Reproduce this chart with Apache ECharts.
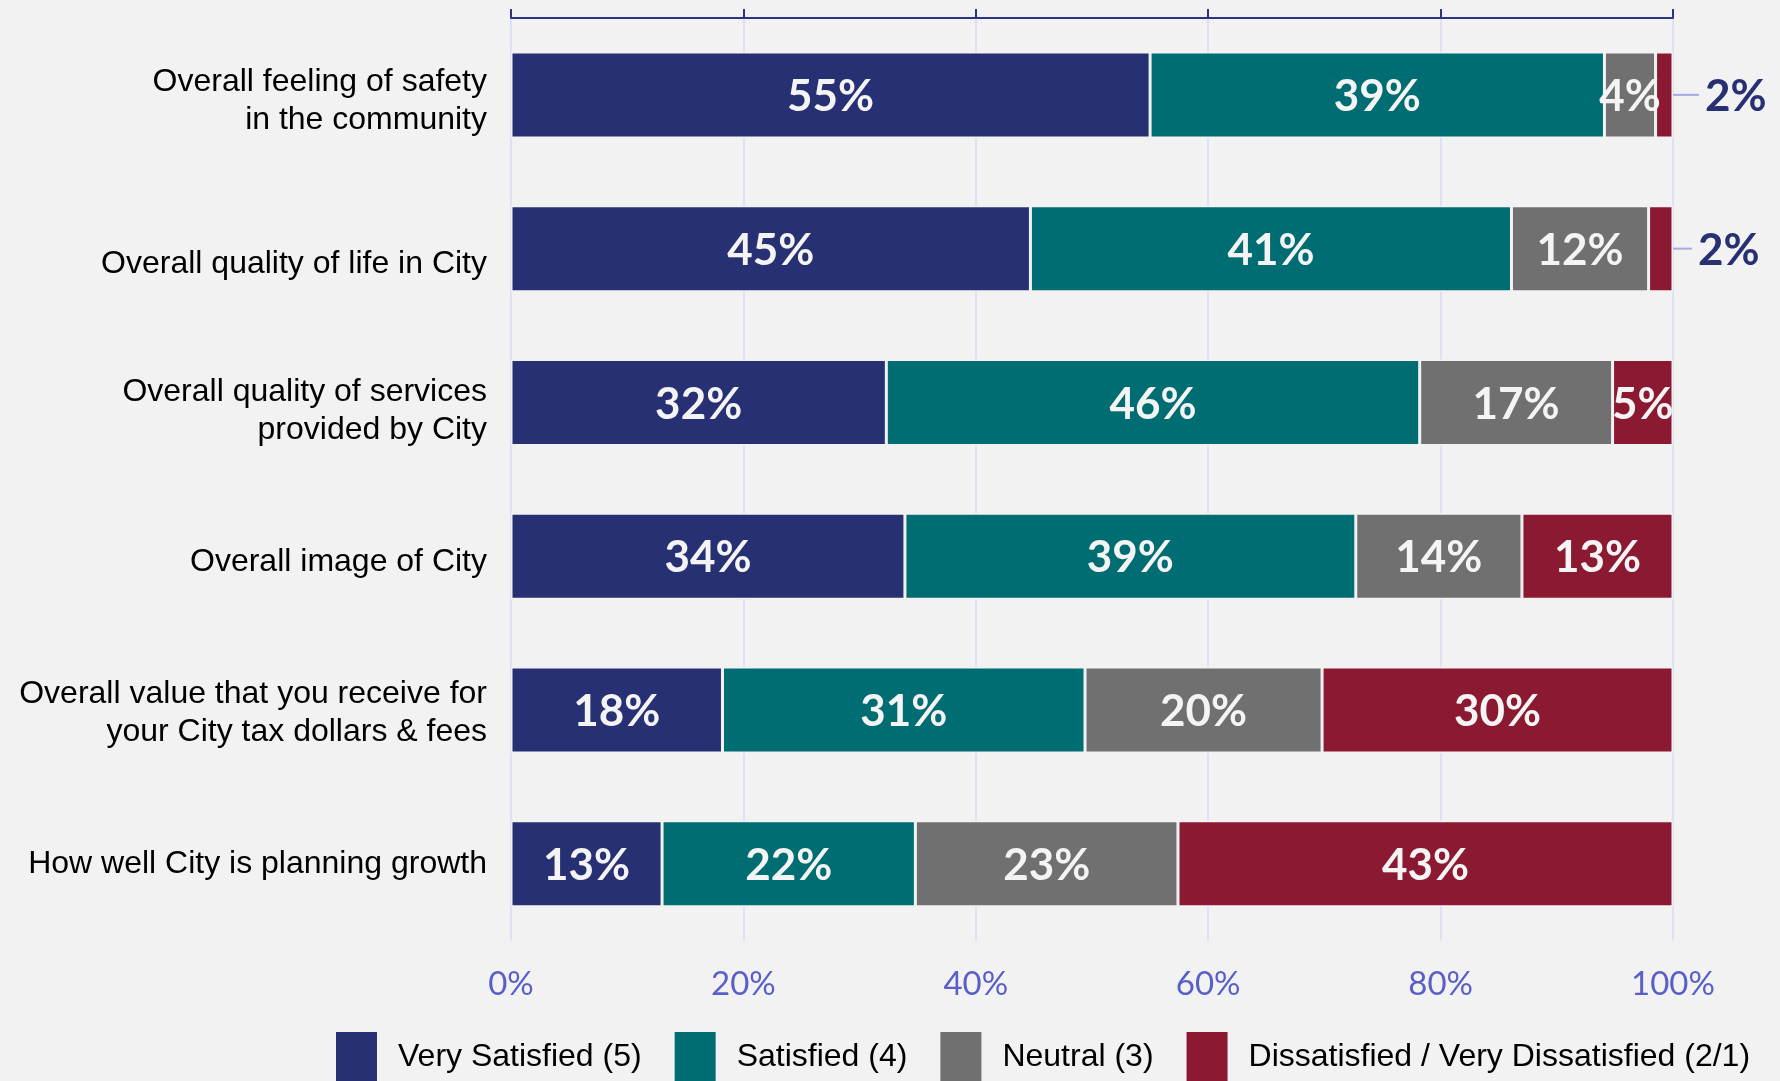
<!DOCTYPE html>
<html>
<head>
<meta charset="utf-8">
<title>Satisfaction with City</title>
<script src="https://cdn.jsdelivr.net/npm/echarts@6.0.0/dist/echarts.min.js"></script>
<style>
  html, body { margin: 0; padding: 0; background: #f2f2f2; }
  #chart { width: 1780px; height: 1081px; }
</style>
</head>
<body>
<div id="chart"></div>
<script>
// data (percent of respondents)
var categories = [
  'Overall feeling of safety\nin the community',
  'Overall quality of life in City',
  'Overall quality of services\nprovided by City',
  'Overall image of City',
  'Overall value that you receive for\nyour City tax dollars & fees',
  'How well City is planning growth'
];
var seriesNames = ['Very Satisfied (5)', 'Satisfied (4)', 'Neutral (3)', 'Dissatisfied / Very Dissatisfied (2/1)'];
var verySatisfied = [55.0, 44.7, 32.3, 33.9, 18.2, 13.0];
var satisfied     = [39.1, 41.4, 45.9, 38.8, 31.2, 21.8];
var neutral       = [4.4, 11.8, 16.6, 14.3, 20.4, 22.6];
var dissatisfied  = [1.5, 2.1, 5.2, 13.0, 30.2, 42.6];

var colors = ['#283074', '#006d72', '#707070', '#8c1932'];
// the source sits a few row labels a little lower than the bar centre
var labelShift = [6, 16, 9, 6, 3, 1];

function pct(p) { return Math.round(p.value) + '%'; }

var inLabel = {
  show: true, position: 'inside', offset: [0, 2], color: '#f4f4f4',
  fontFamily: 'Lato', fontWeight: 'bold', fontSize: 44, formatter: pct
};

// tiny slices get a callout to the right of the bar
function callout(v, i) {
  return {
    value: v,
    label: {
      position: 'right', distance: 0, offset: [0, 0],
      formatter: '{l|}{v|' + Math.round(v) + '%}',
      rich: {
        l: { width: i === 0 ? 26 : 19, height: 2, backgroundColor: '#a4aae6' },
        v: { color: '#283074', fontFamily: 'Lato', fontWeight: 'bold', fontSize: 44, padding: [4, 0, 0, 6] }
      }
    }
  };
}

function makeSeries(idx, values) {
  return {
    name: seriesNames[idx],
    type: 'bar',
    stack: 'total',
    barWidth: 86,
    itemStyle: { color: colors[idx], borderColor: '#f2f2f2', borderWidth: 1.5 },
    label: inLabel,
    data: values.map(function (v, i) {
      return (idx === 3 && v < 3) ? callout(v, i) : v;
    })
  };
}

var catFont = { color: '#000', fontFamily: 'Liberation Sans', fontSize: 32, lineHeight: 38 };
var catRich = {};
labelShift.forEach(function (s, i) {
  catRich['p' + i] = Object.assign({ padding: [s * 2, 0, 0, 0] }, catFont);
});

var chart = echarts.init(document.getElementById('chart'));
chart.setOption({
  backgroundColor: '#f2f2f2',
  animation: false,
  grid: { left: 511, right: 107, top: 18, bottom: 140.5, containLabel: false },
  legend: {
    data: seriesNames,
    left: 334, top: 1030, padding: 0,
    icon: 'rect', itemWidth: 43, itemHeight: 52, itemGap: 31,
    textStyle: { fontFamily: 'Liberation Sans', fontSize: 32, color: '#000', padding: [0, 0, 0, 15] }
  },
  xAxis: [
    {
      type: 'value', position: 'top', min: 0, max: 100, interval: 20,
      axisLine: { show: true, lineStyle: { color: '#2e3580', width: 2 } },
      axisTick: { show: true, length: 9, lineStyle: { color: '#2e3580', width: 2 } },
      axisLabel: { show: false },
      splitLine: { show: true, lineStyle: { color: '#d7daf4', width: 1.5 } }
    },
    {
      type: 'value', position: 'bottom', min: 0, max: 100, interval: 20,
      axisLine: { show: false }, axisTick: { show: false }, splitLine: { show: false },
      axisLabel: { color: '#5a5fc8', fontFamily: 'Lato', fontSize: 33, margin: 27, formatter: '{value}%' }
    }
  ],
  yAxis: {
    type: 'category', inverse: true, data: categories,
    axisLine: { show: false }, axisTick: { show: false }, splitLine: { show: false },
    axisLabel: {
      interval: 0, margin: 24, align: 'right',
      color: '#000', fontFamily: 'Liberation Sans', fontSize: 32, lineHeight: 38,
      formatter: function (v, i) {
        return v.split('\n').map(function (line) {
          return '{p' + i + '|' + line + '}';
        }).join('\n');
      },
      rich: catRich
    }
  },
  series: [
    makeSeries(0, verySatisfied),
    makeSeries(1, satisfied),
    makeSeries(2, neutral),
    makeSeries(3, dissatisfied)
  ]
});
</script>
</body>
</html>
